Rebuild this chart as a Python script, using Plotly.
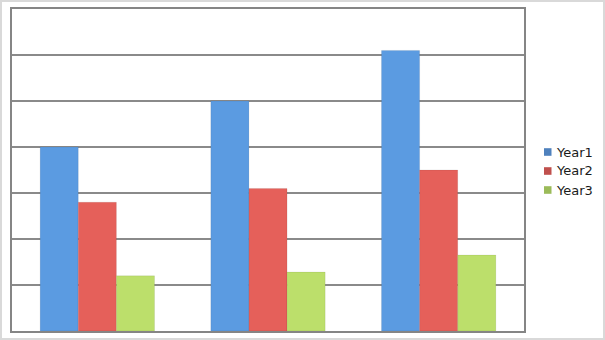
import plotly.graph_objects as go

categories = ["A", "B", "C"]
series_names = ["Year1", "Year2", "Year3"]
year1 = [4.0, 5.0, 6.1]
year2 = [2.8, 3.1, 3.5]
year3 = [1.2, 1.28, 1.65]
bar_colors = ["#5B9BE1", "#E5605A", "#BCDF6B"]
legend_colors = ["#4F81BD", "#C0504D", "#9BBB59"]

W, H = 605, 340
L, R, T, B = 12, 81, 9, 9
pw = W - L - R
ph = H - T - B

def px_x(x):
    return (x - L) / pw

def px_y(y):
    return (H - B - y) / ph

fig = go.Figure()
for name, vals, c in zip(series_names, [year1, year2, year3], bar_colors):
    fig.add_trace(go.Bar(x=categories, y=vals, name=name,
                         marker=dict(color=c, line=dict(color="rgba(0,0,0,0.12)", width=0.6)),
                         showlegend=False))

shapes = [dict(type="rect", xref="paper", yref="paper",
               x0=px_x(1), x1=px_x(W - 1), y0=px_y(H - 1), y1=px_y(1),
               line=dict(color="#d9d9d9", width=2), fillcolor="rgba(0,0,0,0)", layer="below")]
annotations = []
for i, (name, c) in enumerate(zip(series_names, legend_colors)):
    cy = 152 + 19 * i
    shapes.append(dict(type="rect", xref="paper", yref="paper",
                       x0=px_x(544), x1=px_x(551.5), y0=px_y(cy + 3.8), y1=px_y(cy - 3.8),
                       line=dict(width=0), fillcolor=c))
    annotations.append(dict(xref="paper", yref="paper", x=px_x(554), y=px_y(cy),
                            xanchor="left", yanchor="middle", showarrow=False, text=name,
                            font=dict(family="DejaVu Sans", size=13, color="#1a1a1a")))

fig.update_layout(
    width=W, height=H,
    margin=dict(l=L, r=R, t=T, b=B, pad=0, autoexpand=False),
    paper_bgcolor="white", plot_bgcolor="white",
    barmode="group", bargap=0.33, bargroupgap=0,
    showlegend=False,
    font=dict(family="DejaVu Sans", size=13, color="#222222"),
    xaxis=dict(showticklabels=False, showgrid=False, showline=True, linecolor="#858585",
               linewidth=2, mirror=True, ticks=""),
    yaxis=dict(range=[0, 7], dtick=1, showticklabels=False, showgrid=True,
               gridcolor="#8a8a8a", gridwidth=1.5, showline=True, linecolor="#858585",
               linewidth=2, mirror=True, zeroline=False, ticks=""),
    shapes=shapes,
    annotations=annotations,
)
fig.write_html("out.html")
